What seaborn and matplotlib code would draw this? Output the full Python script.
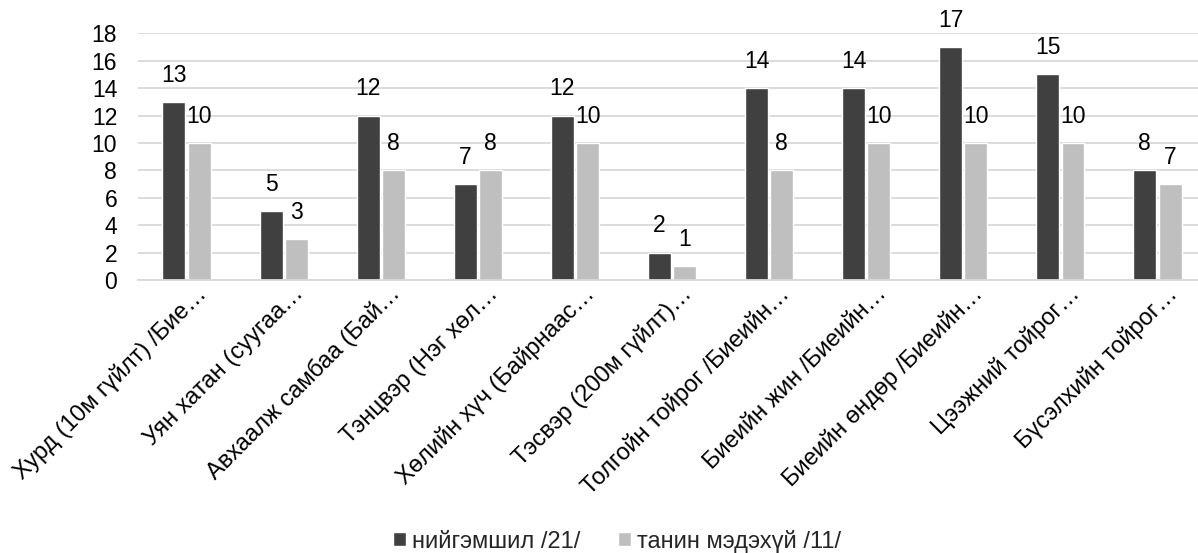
import matplotlib
matplotlib.use("Agg")
import matplotlib.pyplot as plt
import matplotlib.transforms as mtransforms
import seaborn as sns
import pandas as pd

categories = [
    "Хурд (10м гүйлт) /Бие…",
    "Уян хатан (суугаа…",
    "Авхаалж самбаа (Бай…",
    "Тэнцвэр (Нэг хөл…",
    "Хөлийн хүч (Байрнаас…",
    "Тэсвэр (200м гүйлт)…",
    "Толгойн тойрог /Биеийн…",
    "Биеийн жин /Биеийн…",
    "Биеийн өндөр /Биеийн…",
    "Цээжний тойрог…",
    "Бүсэлхийн тойрог…",
]
series_names = ["нийгэмшил /21/", "танин мэдэхүй /11/"]
values_a = [13, 5, 12, 7, 12, 2, 14, 14, 17, 15, 8]
values_b = [10, 3, 8, 8, 10, 1, 8, 10, 10, 10, 7]
yticks = [0, 2, 4, 6, 8, 10, 12, 14, 16, 18]

sns.set_theme(style="white")
plt.rcParams['font.family'] = ['Liberation Sans', 'DejaVu Sans']

df = pd.DataFrame({
    "cat": categories * 2,
    "series": [series_names[0]] * len(categories) + [series_names[1]] * len(categories),
    "val": values_a + values_b,
})

fig = plt.figure(figsize=(11.98, 5.53), dpi=100)
ax = fig.add_axes([0.1152, 0.4937, 0.8915, 0.4461])
sns.barplot(data=df, x="cat", y="val", hue="series", order=categories,
            hue_order=series_names, palette=["#404040", "#BFBFBF"],
            width=0.52, gap=0.09, ax=ax, legend=True, saturation=1)

ax.set_ylim(0, 18)
ax.set_yticks(yticks)
ax.set_xlim(-0.5, len(categories) - 0.5)
ax.yaxis.grid(True, color="#D9D9D9", linewidth=1.3)
ax.set_axisbelow(True)
for s in ["left", "right", "top"]:
    ax.spines[s].set_visible(False)
ax.spines["bottom"].set_color("#D9D9D9")
ax.spines["bottom"].set_linewidth(1.3)
ax.tick_params(axis="both", length=0, labelsize=16.5, colors="#000000")
ax.tick_params(axis="y", pad=15)
ax.set_xlabel("")
ax.set_ylabel("")
ax.set_xticks(range(len(categories)))
ax.set_xticklabels(categories, rotation=45, ha="right", va="baseline",
                   rotation_mode="anchor", fontsize=17)
ax.tick_params(axis="x", pad=0)
offset = mtransforms.ScaledTranslation(0.21, -0.15, fig.dpi_scale_trans)
for lbl in ax.get_xticklabels():
    lbl.set_transform(lbl.get_transform() + offset)

for cont in ax.containers:
    ax.bar_label(cont, fontsize=16.5, padding=11, color="#000000")

handles, labels = ax.get_legend_handles_labels()
ax.legend_.remove()
fig.legend(handles, labels, loc="center left", bbox_to_anchor=(0.328, 0.0215), ncol=2,
           frameon=False, fontsize=17, handlelength=0.55, handleheight=0.55,
           handletextpad=0.25, columnspacing=1.6, borderpad=0, borderaxespad=0)

fig.savefig("out.png", dpi=100)
